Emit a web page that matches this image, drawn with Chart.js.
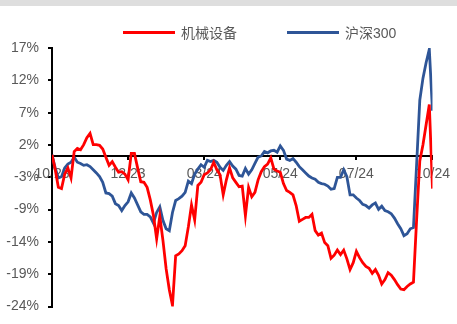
<!DOCTYPE html>
<html>
<head>
<meta charset="utf-8">
<script src="https://cdn.jsdelivr.net/npm/chart.js@4/dist/chart.umd.min.js"></script>
<style>
  html, body { margin: 0; padding: 0; background: #ffffff; }
  #wrap { position: relative; width: 457px; height: 324px; overflow: hidden; background: #ffffff; }
  #band { position: absolute; left: 0; top: 0; width: 457px; height: 6px; background: #dedede; }
  #c { position: absolute; left: 0; top: 0; }
  .item { position: absolute; top: 23px; height: 18px; display: flex; align-items: center;
          font-family: "Liberation Sans", "Noto Sans CJK SC", sans-serif; font-size: 14px; color: #595959; }
  .swatch { display: inline-block; width: 52px; height: 3px; margin-right: 6px; }
</style>
</head>
<body>
<div id="wrap">
  <div id="band"></div>
  <canvas id="c" width="457" height="324"></canvas>
  <div class="item" id="lg0" style="left:123px"><span class="swatch"></span><span class="txt"></span></div>
  <div class="item" id="lg1" style="left:287px"><span class="swatch"></span><span class="txt"></span></div>
</div>
<script>
// Series names and colours
const seriesNames = ['机械设备', '沪深300'];
const seriesColors = ['#ff0000', '#2e5597'];

// Cumulative return (%), one value per sampled trading day, Oct 2023 – Oct 2024
const machinery = [
  0.2, -2.1, -5.0, -5.2, -2.9, -1.9, -3.5, 0.7, 1.2, 1.0,
  1.8, 2.9, 3.6, 1.8, 1.8, 1.7, 1.1, -0.2, -1.5, -0.9,
  -1.8, -2.6, -2.5, -2.9, -3.8, 0.4, 0.4, -1.9, -4.1, -4.2,
  -5.0, -7.0, -9.5, -13.2, -9.6, -13.5, -18.0, -21.3, -23.8, -15.9,
  -15.6, -15.1, -14.3, -11.3, -7.8, -10.2, -4.7, -4.2, -3.0, -2.7,
  -2.2, -1.0, -2.2, -3.0, -6.2, -3.8, -1.9, -3.5, -4.2, -4.9,
  -4.8, -9.5, -5.0, -6.5, -5.8, -3.8, -2.5, -1.7, -1.3, -0.3,
  -2.1, -2.4, -2.6, -4.4, -5.5, -5.8, -6.2, -7.9, -10.4, -10.1,
  -9.8, -9.8, -9.3, -11.9, -12.6, -12.3, -13.8, -14.3, -16.3, -15.8,
  -15.0, -15.7, -15.0, -16.4, -18.1, -17.0, -15.2, -16.2, -17.0, -17.6,
  -17.9, -18.7, -18.1, -19.0, -20.4, -19.7, -18.6, -19.0, -19.7, -20.5,
  -21.2, -21.3, -20.8, -20.4, -20.1, -10.1, -0.8, 1.8, 5.0, 8.2,
  -5.2
];
const csi300 = [
  0.2, -1.9, -3.5, -3.3, -1.9, -1.3, -1.0, -0.2, -1.0, -1.2,
  -1.5, -1.4, -1.7, -2.2, -2.7, -3.3, -4.2, -5.9, -6.0, -6.4,
  -7.6, -7.9, -8.7, -7.9, -7.3, -5.9, -6.7, -7.8, -8.9, -9.3,
  -9.3, -9.7, -10.7, -9.0, -8.1, -10.3, -11.6, -11.9, -9.0, -7.1,
  -6.8, -6.4, -5.8, -4.0, -4.4, -2.9, -2.1, -1.4, -1.8, -0.7,
  -0.9, -0.7, -1.0, -1.8, -2.3, -1.5, -0.9, -1.6, -2.1, -3.1,
  -3.2, -2.0, -2.9, -2.2, -1.2, -0.2, 0.0, 0.7, 0.5, 0.8,
  0.9, 0.6, 1.6, 0.9, -0.5, -0.7, -0.4, -1.0, -1.7, -2.2,
  -2.7, -3.2, -3.5, -3.7, -4.2, -4.4, -4.5, -4.8, -5.3, -5.2,
  -3.4, -3.4, -2.2, -3.3, -6.2, -6.2, -6.7, -7.1, -7.7, -7.9,
  -8.3, -7.8, -7.5, -8.5, -8.0, -8.7, -8.9, -9.2, -9.9, -10.8,
  -11.6, -12.7, -12.4, -11.6, -11.4, -1.3, 8.9, 12.4, 14.9, 17.0,
  7.2
];

// Date labels shown along the zero line, one every labelStep samples
const xTickLabels = ['10/23', '12/23', '03/24', '05/24', '07/24', '10/24'];
const labelStep = 24;

// Value-axis tick positions (%)
const yTickValues = [17.2, 12.05, 6.9, 1.75, -3.4, -8.55, -13.7, -18.85, -24];

// HTML legend
[0, 1].forEach(k => {
  const el = document.getElementById('lg' + k);
  el.querySelector('.swatch').style.background = seriesColors[k];
  el.querySelector('.txt').textContent = seriesNames[k];
});

const toPoints = arr => arr.map((v, i) => ({ x: i, y: v }));
const tickFont = { family: '"Liberation Sans", Arial, sans-serif', size: 14 };

new Chart(document.getElementById('c'), {
  type: 'line',
  data: {
    datasets: [
      { label: seriesNames[0], data: toPoints(machinery), borderColor: seriesColors[0],
        borderWidth: 2.8, pointRadius: 0, tension: 0, fill: false },
      { label: seriesNames[1], data: toPoints(csi300), borderColor: seriesColors[1],
        borderWidth: 2.8, pointRadius: 0, tension: 0, fill: false }
    ]
  },
  options: {
    responsive: false,
    animation: false,
    devicePixelRatio: 1,
    layout: { padding: { top: 48, bottom: 9, right: 23, left: 0 } },
    plugins: { legend: { display: false }, tooltip: { enabled: false } },
    scales: {
      x: {
        type: 'linear',
        position: { y: 0 },
        min: 0,
        max: machinery.length - 1,
        border: { display: true, color: '#000000', width: 2 },
        grid: { display: true, drawOnChartArea: false, drawTicks: true, tickLength: 3,
                color: '#000000', lineWidth: 2 },
        ticks: {
          stepSize: labelStep,
          autoSkip: false,
          maxRotation: 0,
          padding: 7,
          color: '#595959',
          font: tickFont,
          callback: v => xTickLabels[Math.round(v / labelStep)] ?? ''
        }
      },
      y: {
        type: 'linear',
        position: 'left',
        min: -24,
        max: 17.2,
        border: { display: true, color: '#000000', width: 2 },
        grid: { display: true, drawOnChartArea: false, drawTicks: true, tickLength: 4,
                color: '#000000', lineWidth: 2 },
        afterBuildTicks: scale => { scale.ticks = yTickValues.map(v => ({ value: v })); },
        afterFit: scale => { scale.width = 52; },
        ticks: {
          padding: 9,
          color: '#595959',
          font: tickFont,
          callback: v => Math.round(v) + '%'
        }
      }
    }
  }
});
</script>
</body>
</html>
